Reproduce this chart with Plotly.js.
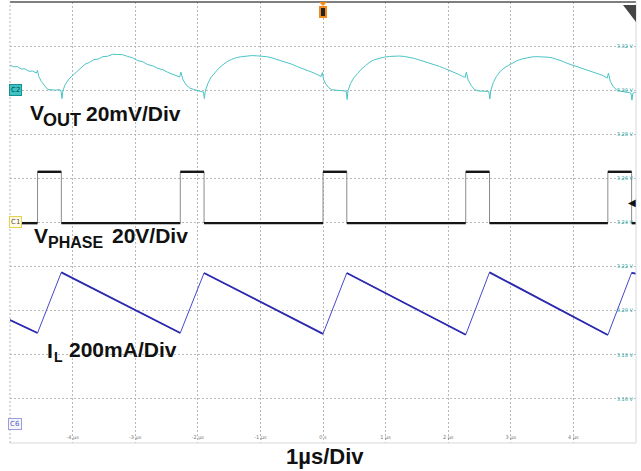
<!DOCTYPE html>
<html><head><meta charset="utf-8">
<script src="https://cdn.plot.ly/plotly-3.0.1.min.js"></script>
<style>html,body{margin:0;padding:0;background:#fff;} #chart{width:641px;height:471px;}</style>
</head><body><div id="chart"></div>
<script>
// ---- axis ticks ----
const xTickVals = [-4, -3, -2, -1, 0, 1, 2, 3, 4];
const xTickText = ['-4 µs', '-3 µs', '-2 µs', '-1 µs', '0 s', '1 µs', '2 µs', '3 µs', '4 µs'];
const yTickVals = [3.16, 3.18, 3.20, 3.22, 3.24, 3.26, 3.28, 3.30, 3.32];
const yTickText = ['3.16 V', '3.18 V', '3.20 V', '3.22 V', '3.24 V', '3.26 V', '3.28 V', '3.30 V', '3.32 V'];

// ---- VOUT (V) vs time (µs) ----
const voutT = [-5.00,-4.94,-4.88,-4.82,-4.76,-4.70,-4.64,-4.58,-4.56,-4.54,-4.50,-4.45,-4.40,-4.34,-4.28,-4.22,-4.185,-4.17,-4.155,-4.12,-4.06,-3.99,-3.93,-3.86,-3.80,-3.73,-3.66,-3.59,-3.52,-3.44,-3.36,-3.28,-3.20,-3.12,-3.04,-2.96,-2.88,-2.80,-2.72,-2.64,-2.56,-2.48,-2.40,-2.32,-2.29,-2.27,-2.24,-2.19,-2.13,-2.07,-2.01,-1.95,-1.91,-1.895,-1.88,-1.84,-1.79,-1.73,-1.67,-1.60,-1.53,-1.46,-1.38,-1.30,-1.22,-1.14,-1.06,-0.98,-0.90,-0.82,-0.74,-0.66,-0.58,-0.50,-0.42,-0.34,-0.26,-0.18,-0.10,-0.03,-0.01,0.01,0.04,0.09,0.14,0.20,0.26,0.32,0.37,0.385,0.40,0.44,0.49,0.55,0.61,0.68,0.75,0.82,0.90,0.98,1.06,1.14,1.22,1.30,1.38,1.46,1.54,1.62,1.70,1.78,1.86,1.94,2.02,2.10,2.18,2.25,2.27,2.29,2.32,2.37,2.42,2.48,2.54,2.60,2.65,2.665,2.68,2.72,2.77,2.83,2.89,2.96,3.03,3.10,3.18,3.26,3.34,3.42,3.50,3.58,3.66,3.74,3.82,3.90,3.98,4.06,4.14,4.22,4.30,4.38,4.46,4.52,4.54,4.56,4.59,4.64,4.69,4.75,4.81,4.87,4.92,4.935,4.95,4.98,5.00];
const voutV = [3.3114,3.3106,3.3107,3.3096,3.3097,3.3086,3.3087,3.3078,3.3090,3.3062,3.3040,3.3022,3.3004,3.3002,3.3000,3.3003,3.2998,3.2962,3.2997,3.3025,3.3050,3.3069,3.3085,3.3100,3.3118,3.3126,3.3139,3.3141,3.3152,3.3154,3.3163,3.3162,3.3161,3.3153,3.3147,3.3134,3.3129,3.3116,3.3111,3.3099,3.3093,3.3081,3.3073,3.3062,3.3060,3.3082,3.3050,3.3025,3.3010,3.3004,3.2998,3.2994,3.2992,3.2962,3.2996,3.3030,3.3058,3.3080,3.3098,3.3115,3.3130,3.3140,3.3148,3.3152,3.3155,3.3157,3.3156,3.3155,3.3152,3.3147,3.3140,3.3134,3.3128,3.3118,3.3108,3.3100,3.3092,3.3082,3.3072,3.3062,3.3080,3.3048,3.3030,3.3012,3.3002,3.3000,3.2999,3.2998,3.2996,3.2958,3.2998,3.3030,3.3055,3.3075,3.3095,3.3112,3.3128,3.3138,3.3145,3.3150,3.3153,3.3155,3.3155,3.3153,3.3150,3.3144,3.3137,3.3130,3.3124,3.3117,3.3108,3.3099,3.3090,3.3081,3.3070,3.3060,3.3058,3.3082,3.3045,3.3020,3.3003,3.2997,3.2996,3.2995,3.2994,3.2960,3.2998,3.3035,3.3062,3.3085,3.3100,3.3112,3.3125,3.3134,3.3142,3.3148,3.3151,3.3152,3.3152,3.3150,3.3147,3.3140,3.3132,3.3122,3.3114,3.3106,3.3098,3.3090,3.3083,3.3076,3.3068,3.3058,3.3055,3.3078,3.3040,3.3015,3.3002,3.2996,3.2993,3.2990,3.2987,3.2955,3.2986,3.2990,3.2988];

// ---- VPHASE (V): switching edges (µs) and levels ----
const phaseRise = [-4.56, -2.28, 0.00, 2.28, 4.55];
const phaseFall = [-4.18, -1.90, 0.38, 2.66, 4.93];
const phaseLow = -0.3;
const phaseHigh = 23.0;

// ---- IL (mA) vs time (µs) ----
const ilT = [-5.00, -4.56, -4.18, -2.28, -1.90, 0.00, 0.38, 2.28, 2.66, 4.55, 4.93, 5.00];
const ilA = [478, 419, 694, 419, 691, 415, 691, 411, 694, 410, 692, 688];

// build phase waveform
const phX = [-5], phY = [phaseLow];
phaseRise.forEach((r, i) => {
  phX.push(r, r, phaseFall[i], phaseFall[i]);
  phY.push(phaseLow, phaseHigh, phaseHigh, phaseLow);
});
phX.push(5); phY.push(phaseLow);
// flat parts only (thick)
const flX = [], flY = [];
let prev = -5;
phaseRise.forEach((r, i) => {
  flX.push(prev, r, null, r, phaseFall[i], null);
  flY.push(phaseLow, phaseLow, null, phaseHigh, phaseHigh, null);
  prev = phaseFall[i];
});
flX.push(prev, 5); flY.push(phaseLow, phaseLow);

// IL falling segments (thick)
const ilDX = [], ilDY = [];
for (let i = 0; i < ilT.length - 1; i++) {
  if (ilA[i + 1] < ilA[i]) {
    ilDX.push(ilT[i], ilT[i + 1], null);
    ilDY.push(ilA[i], ilA[i + 1], null);
  }
}

const traces = [
  {x: voutT, y: voutV, type: 'scatter', mode: 'lines', yaxis: 'y', line: {color: '#4cc4c6', width: 1}, hoverinfo: 'skip'},
  {x: phX, y: phY, type: 'scatter', mode: 'lines', yaxis: 'y2', line: {color: '#8c8c8c', width: 1}, hoverinfo: 'skip'},
  {x: flX, y: flY, type: 'scatter', mode: 'lines', yaxis: 'y2', connectgaps: false, line: {color: '#151515', width: 2.4}, hoverinfo: 'skip'},
  {x: ilT, y: ilA, type: 'scatter', mode: 'lines', yaxis: 'y3', line: {color: '#4848c8', width: 1}, hoverinfo: 'skip'},
  {x: ilDX, y: ilDY, type: 'scatter', mode: 'lines', yaxis: 'y3', connectgaps: false, line: {color: '#2a2aae', width: 1.8}, hoverinfo: 'skip'}
];

// pixel -> paper helpers (plot area: x 10..636, y 2..443)
const PX0 = 10, PW = 626, PY0 = 2, PH = 441;
const px = x => (x - PX0) / PW;
const py = y => (PY0 + PH - y) / PH;

const lblFont = (s) => ({family: 'Liberation Sans, Arial, sans-serif', size: s, color: '#111', weight: 'bold'});
function lbl(text, x, y, s) {
  return {text: '<b>' + text + '</b>', xref: 'paper', yref: 'paper', x: px(x), y: py(y), xanchor: 'left', yanchor: 'middle',
          showarrow: false, font: lblFont(s), borderpad: 0};
}
function badge(text, x, y, bg, border, col) {
  return {text: text, xref: 'paper', yref: 'paper', x: px(x), y: py(y), xanchor: 'center', yanchor: 'middle', showarrow: false,
          font: {family: 'DejaVu Sans', size: 7, color: col}, bgcolor: bg, bordercolor: border, borderwidth: 1, borderpad: 1};
}

const annotations = [
  lbl('V', 29, 112.6, 21), lbl('OUT', 42, 119.7, 18), lbl('20mV/Div', 85, 113.6, 21),
  lbl('V', 33, 235.6, 21), lbl('PHASE', 47, 242.4, 16), lbl('20V/Div', 111, 235.6, 21),
  lbl('I', 46, 350.6, 21), lbl('L', 53, 357.1, 14), lbl('200mA/Div', 68, 349.6, 21),
  {text: '<b>1µs/Div</b>', xref: 'paper', yref: 'paper', x: px(325), y: py(457), xanchor: 'center', yanchor: 'middle',
   showarrow: false, font: lblFont(22)},
  badge('C2', 15, 90, '#3cc4c4', '#1a9090', '#064848'),
  badge('C1', 15, 222, '#fffbe6', '#e6d34a', '#555'),
  badge('C6', 15, 424, '#f6f6ff', '#9c9ce0', '#5a5ab8'),
  {text: '◀', xref: 'paper', yref: 'paper', x: px(632), y: py(202), xanchor: 'center', yanchor: 'middle', showarrow: false,
   font: {family: 'DejaVu Sans', size: 10, color: '#111'}}
];

const shapes = [
  // frame
  {type: 'line', xref: 'paper', yref: 'paper', x0: 0, x1: 1, y0: 1, y1: 1, line: {color: '#555', width: 1.5}},
  {type: 'line', xref: 'paper', yref: 'paper', x0: 0, x1: 1, y0: 0, y1: 0, line: {color: '#d8d8d8', width: 1}},
  {type: 'line', xref: 'paper', yref: 'paper', x0: 1, x1: 1, y0: 0, y1: 1, line: {color: '#d8d8d8', width: 1}},
  {type: 'line', xref: 'paper', yref: 'paper', x0: 0, x1: 0, y0: 0, y1: 1, line: {color: '#b5b5b5', width: 1, dash: '2px,2px'}},
  // trigger position marker (top)
  {type: 'path', xref: 'paper', yref: 'paper', path: `M ${px(319)} ${py(2)} L ${px(327)} ${py(2)} L ${px(323)} ${py(6)} Z`,
   fillcolor: '#f08a1a', line: {width: 0}},
  {type: 'rect', xref: 'paper', yref: 'paper', x0: px(319), x1: px(327), y0: py(18), y1: py(6), fillcolor: '#f08a1a', line: {width: 0}},
  {type: 'rect', xref: 'paper', yref: 'paper', x0: px(321), x1: px(325), y0: py(16), y1: py(8), fillcolor: '#222', line: {width: 0}},
  // top-right corner triangle
  {type: 'path', xref: 'paper', yref: 'paper', path: `M ${px(623)} ${py(5)} L ${px(636)} ${py(5)} L ${px(636)} ${py(22)} Z`,
   fillcolor: '#454545', line: {width: 0}}
];

const grid = {showgrid: true, gridcolor: '#b8b8b8', gridwidth: 1, griddash: '2px,2px', zeroline: false, showline: false, ticks: '', fixedrange: true};

const layout = {
  width: 641, height: 471,
  margin: {l: PX0, r: 641 - PX0 - PW, t: PY0, b: 471 - PY0 - PH, pad: 0},
  paper_bgcolor: '#ffffff', plot_bgcolor: '#ffffff',
  showlegend: false,
  xaxis: Object.assign({range: [-5, 5], tickvals: xTickVals, ticktext: xTickText, ticklabelposition: 'inside',
    tickfont: {family: 'DejaVu Sans', size: 5, color: '#777'}}, grid),
  yaxis: Object.assign({range: [3.14, 3.34], side: 'right', tickvals: yTickVals, ticktext: yTickText, ticklabelposition: 'inside',
    tickfont: {family: 'DejaVu Sans', size: 5, color: '#2aa8a8'}}, grid),
  yaxis2: {range: [-100, 100], overlaying: 'y', visible: false, fixedrange: true},
  yaxis3: {range: [-80, 1920], overlaying: 'y', visible: false, fixedrange: true},
  annotations: annotations,
  shapes: shapes
};

Plotly.newPlot('chart', traces, layout, {staticPlot: true, displayModeBar: false});
</script></body></html>
